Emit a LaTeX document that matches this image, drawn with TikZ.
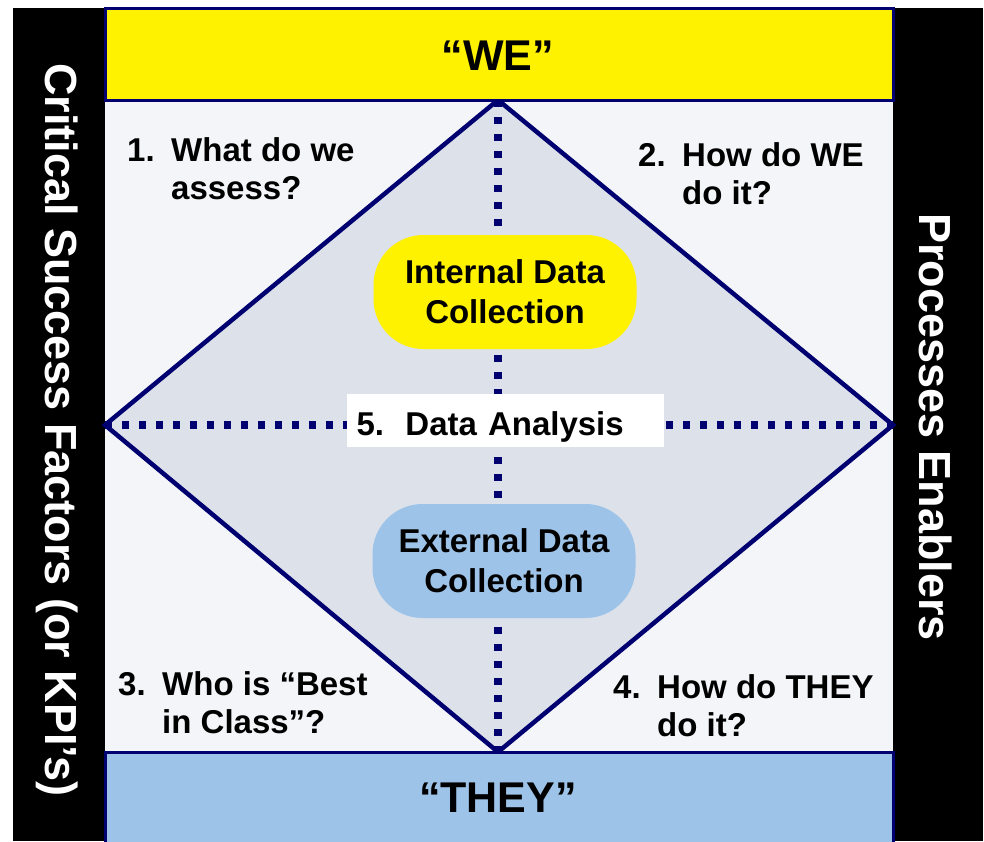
\documentclass[tikz,border=0pt]{standalone}
\usepackage{fontspec}
\setmainfont{Liberation Sans}
\usepackage{tikz}
\usetikzlibrary{arrows.meta}

\definecolor{navy}{RGB}{0,0,112}
\definecolor{skyband}{RGB}{157,195,232}
\definecolor{diamondfill}{RGB}{221,225,234}
\definecolor{quadfill}{RGB}{244,245,249}

\begin{document}
\begin{tikzpicture}[>=Stealth, x=1pt, y=-1pt,
    quest/.style={anchor=north west, inner sep=0pt, align=left,
        font=\fontsize{33}{38}\selectfont\bfseries},
    blob/.style={rounded corners=50pt, minimum width=263pt, minimum height=114pt,
        align=center, font=\fontsize{33}{40}\selectfont\bfseries},
    sidetext/.style={rotate=-90, text=white, font=\fontsize{45}{50}\selectfont\bfseries},
    bandtext/.style={font=\fontsize{43}{48}\selectfont\bfseries},
    dotline/.style={navy, line width=7.5pt, dash pattern=on 7pt off 10pt}]
    % 定义参数
    \def\Xl{105}
    \def\Xr{893}
    \def\Ytop{100}
    \def\Ybot{752}
    \def\Xm{498}
    \def\Ym{425}

    \useasboundingbox (0,0) rectangle (984,841);

    % 两侧黑条
    \fill[black] (13,8) rectangle (\Xl,841);
    \fill[black] (\Xr,8) rectangle (983,841);

    % 中间区域
    \fill[quadfill] (\Xl,\Ytop) rectangle (\Xr,\Ybot);

    % 菱形顶点
    \coordinate (top) at (\Xm,\Ytop);
    \coordinate (rgt) at (\Xr,\Ym);
    \coordinate (bot) at (\Xm,\Ybot);
    \coordinate (lft) at (\Xl,\Ym);

    \fill[diamondfill] (top) -- (rgt) -- (bot) -- (lft) -- cycle;

    % 虚线十字
    \draw[dotline] (top) -- (bot);
    \draw[dotline] (lft) -- (rgt);

    % 菱形边框
    \draw[navy, line width=4.5pt, line join=miter] (top) -- (rgt) -- (bot) -- (lft) -- cycle;

    % 上下色带
    \draw[navy, line width=3pt, fill=yellow] (\Xl,8) rectangle (\Xr,\Ytop);
    \draw[navy, line width=3pt, fill=skyband] (\Xl,\Ybot) rectangle (\Xr,843);
    \node[bandtext] (we) at (\Xm,56) {“WE”};
    \node[bandtext] (they) at (\Xm,798) {“THEY”};

    % 数据收集
    \node[blob, fill=yellow] (internal) at (505,292) {Internal Data\\Collection};
    \node[blob, fill=skyband] (external) at (504,561) {External Data\\Collection};

    % 数据分析
    \node[fill=white, inner xsep=10pt, inner ysep=0pt, text width=297pt,
        text height=41pt, text depth=12pt, align=left,
        font=\fontsize{33}{38}\selectfont\bfseries] (analysis) at (505,420.5)
        {\makebox[49pt][l]{5.}Data Analysis};

    % 四个问题
    \node[quest] (q1) at (127,137) {\makebox[44pt][l]{1.}What do we\\\hspace*{44pt}assess?};
    \node[quest] (q2) at (638,142) {\makebox[44pt][l]{2.}How do WE\\\hspace*{44pt}do it?};
    \node[quest] (q3) at (118,671) {\makebox[44pt][l]{3.}Who is “Best\\\hspace*{44pt}in Class”?};
    \node[quest] (q4) at (613,674) {\makebox[44pt][l]{4.}How do THEY\\\hspace*{44pt}do it?};

    % 两侧竖排文字
    \node[sidetext] (csf) at (57,430) {Critical Success Factors (or KPI’s)};
    \node[sidetext] (enablers) at (936,427) {Processes Enablers};
\end{tikzpicture}
\end{document}
